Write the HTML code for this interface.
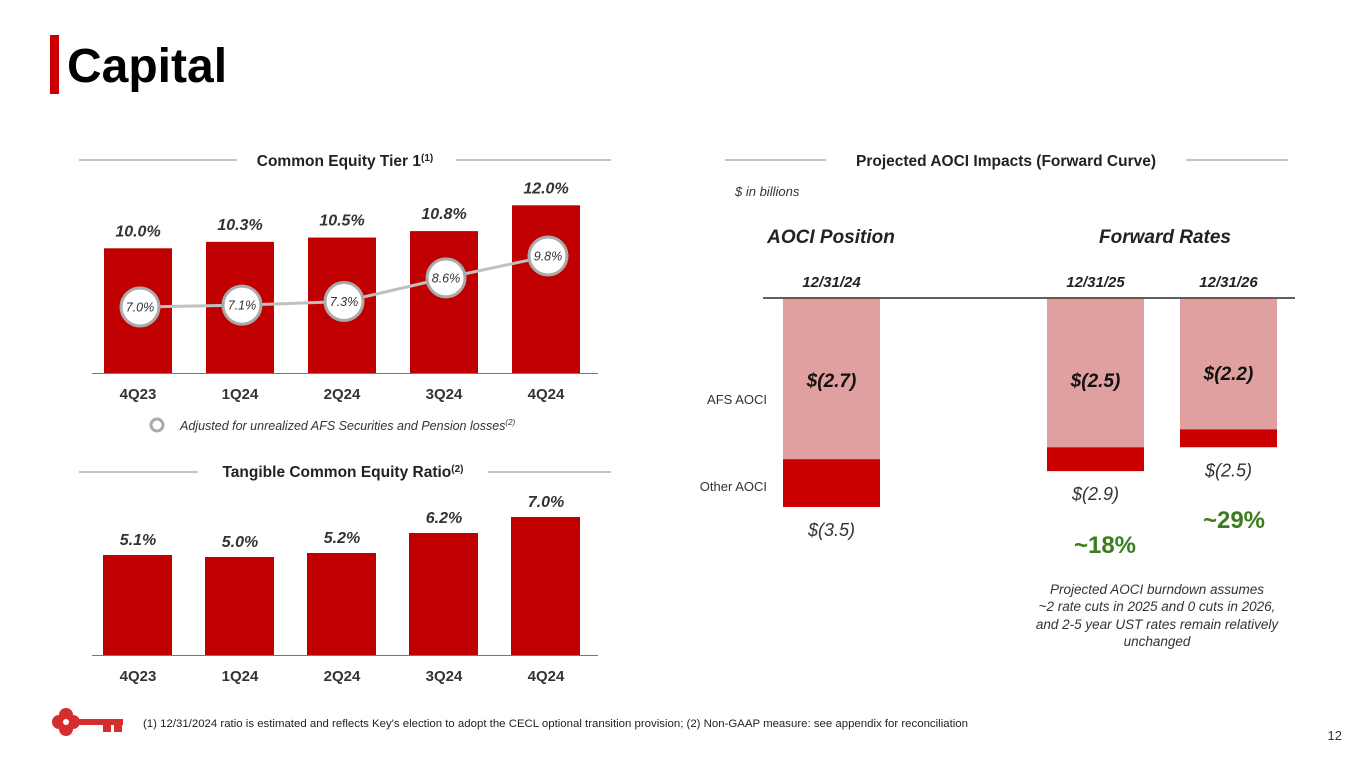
<!DOCTYPE html>
<html><head><meta charset="utf-8">
<style>
html,body{margin:0;padding:0;background:#fff;}
body{width:1365px;height:768px;overflow:hidden;font-family:"Liberation Sans",Arial,sans-serif;}
svg text{font-family:"Liberation Sans",Arial,sans-serif;}
</style></head>
<body>
<svg id="s" width="1365" height="768" viewBox="0 0 1365 768" xmlns="http://www.w3.org/2000/svg">
<rect x="50" y="35" width="9" height="59" fill="#cc0000"/>
<text x="67" y="82" font-size="48" font-weight="bold" fill="#000">Capital</text>

<g>
<line x1="79" y1="160" x2="237" y2="160" stroke="#888" stroke-width="1"/>
<line x1="456" y1="160" x2="611" y2="160" stroke="#888" stroke-width="1"/>
<text x="345" y="166" font-size="15.5" font-weight="bold" text-anchor="middle" fill="#222">Common Equity Tier 1<tspan font-size="10" dy="-5">(1)</tspan></text>
</g>
<g>
<line x1="79" y1="472" x2="198" y2="472" stroke="#888" stroke-width="1"/>
<line x1="488" y1="472" x2="611" y2="472" stroke="#888" stroke-width="1"/>
<text x="343" y="477" font-size="15.5" font-weight="bold" text-anchor="middle" fill="#222">Tangible Common Equity Ratio<tspan font-size="10" dy="-5">(2)</tspan></text>
</g>
<g>
<line x1="725" y1="160" x2="826" y2="160" stroke="#888" stroke-width="1"/>
<line x1="1186" y1="160" x2="1288" y2="160" stroke="#888" stroke-width="1"/>
<text x="1006" y="166" font-size="15.5" font-weight="bold" text-anchor="middle" fill="#222">Projected AOCI Impacts (Forward Curve)</text>
</g>

<g id="cet1"></g>
<g>
<circle cx="157" cy="425" r="6" fill="#fff" stroke="#aaa" stroke-width="3"/>
<text x="180" y="430" font-size="12.5" font-style="italic" fill="#333">Adjusted for unrealized AFS Securities and Pension losses<tspan font-size="8" dy="-5">(2)</tspan></text>
</g>
<g id="tce"></g>

<text x="735" y="196" font-size="13" font-style="italic" fill="#333">$ in billions</text>
<text x="831" y="243" font-size="19" font-weight="bold" font-style="italic" text-anchor="middle" fill="#222">AOCI Position</text>
<text x="1165" y="243" font-size="19" font-weight="bold" font-style="italic" text-anchor="middle" fill="#222">Forward Rates</text>
<text x="767" y="404" font-size="13" text-anchor="end" fill="#333">AFS AOCI</text>
<text x="767" y="491" font-size="13" text-anchor="end" fill="#333">Other AOCI</text>
<g id="aoci"></g>
<text x="1105" y="553" font-size="24" font-weight="bold" text-anchor="middle" fill="#3a7d1a">~18%</text>
<text x="1234" y="528" font-size="24" font-weight="bold" text-anchor="middle" fill="#3a7d1a">~29%</text>
<g font-size="13.5" font-style="italic" fill="#333" text-anchor="middle">
<text x="1157" y="594">Projected AOCI burndown assumes</text>
<text x="1157" y="611">~2 rate cuts in 2025 and 0 cuts in 2026,</text>
<text x="1157" y="629">and 2-5 year UST rates remain relatively</text>
<text x="1157" y="646">unchanged</text>
</g>

<g fill="#d42e2e">
<circle cx="66" cy="715" r="7"/><circle cx="66" cy="729" r="7"/><circle cx="59" cy="722" r="7"/><circle cx="73" cy="722" r="7"/>
<circle cx="66" cy="722" r="3" fill="#fff"/>
<rect x="78" y="719" width="45" height="6"/>
<rect x="103" y="724" width="8" height="8"/><rect x="114" y="724" width="8" height="8"/>
</g>
<text x="143" y="727" font-size="11" textLength="825" lengthAdjust="spacingAndGlyphs" fill="#222">(1) 12/31/2024 ratio is estimated and reflects Key's election to adopt the CECL optional transition provision; (2) Non-GAAP measure: see appendix for reconciliation</text>
<text x="1342" y="740" font-size="13" text-anchor="end" fill="#333">12</text>
</svg>
<script>
const quarters = ["4Q23","1Q24","2Q24","3Q24","4Q24"];
const cet1Values = [10.0,10.3,10.5,10.8,12.0];
const cet1Adjusted = [7.0,7.1,7.3,8.6,9.8];
const tceValues = [5.1,5.0,5.2,6.2,7.0];
const aociDates = ["12/31/24","12/31/25","12/31/26"];
const aociAfs = [2.7,2.5,2.2];
const aociTotal = [3.5,2.9,2.5];

const NS = "http://www.w3.org/2000/svg";
function mk(parent, tag, attrs, txt){
  const e = document.createElementNS(NS, tag);
  for (const k in attrs) e.setAttribute(k, attrs[k]);
  if (txt !== undefined) e.textContent = txt;
  parent.appendChild(e);
  return e;
}
const fmtPct = v => v.toFixed(1) + "%";
const xBand = i => 104 + i*102;
const barW = 68;

const cet = document.getElementById("cet1");
const yC = v => 373 - (v - 4.2) * 21.5;
const yL = v => 307 - (v - 7.0) * 18.2;
cet1Values.forEach((v,i)=>{
  const r = mk(cet,"rect",{x:xBand(i),y:yC(v),width:barW,height:373-yC(v),fill:"#c00000"});
  
  
  const t = mk(cet,"text",{x:xBand(i)+barW/2,y:yC(v)-12,"font-size":"16","font-weight":"bold","font-style":"italic","text-anchor":"middle",fill:"#333"},fmtPct(v));
  
  
  const q = mk(cet,"text",{x:xBand(i)+barW/2,y:399,"font-size":"15","font-weight":"bold","text-anchor":"middle",fill:"#333"},quarters[i]);
  
  
});
const ax1 = mk(cet,"line",{x1:92,y1:373.5,x2:598,y2:373.5,stroke:"#777","stroke-width":"1"});


const pts = cet1Adjusted.map((v,i)=>(xBand(i)+barW/2+2)+","+yL(v)).join(" ");
const pl = mk(cet,"polyline",{points:pts,fill:"none",stroke:"#c0c0c0","stroke-width":"3"});


cet1Adjusted.forEach((v,i)=>{
  const cx = xBand(i)+barW/2+2, cy = yL(v);
  const c = mk(cet,"circle",{cx:cx,cy:cy,r:19,fill:"#fff",stroke:"#aaa","stroke-width":"3"});
  
  
  const t = mk(cet,"text",{x:cx,y:cy+4.5,"font-size":"12.5","font-style":"italic","text-anchor":"middle",fill:"#333"},fmtPct(v));
  
  
});

const tce = document.getElementById("tce");
const yT = v => 655 - (v - 0.1) * 20;
tceValues.forEach((v,i)=>{
  const r = mk(tce,"rect",{x:xBand(i)-1,y:yT(v),width:barW+1,height:655-yT(v),fill:"#c00000"});
  
  
  const t = mk(tce,"text",{x:xBand(i)+barW/2,y:yT(v)-10,"font-size":"16","font-weight":"bold","font-style":"italic","text-anchor":"middle",fill:"#333"},fmtPct(v));
  
  
  const q = mk(tce,"text",{x:xBand(i)+barW/2,y:681,"font-size":"15","font-weight":"bold","text-anchor":"middle",fill:"#333"},quarters[i]);
  
  
});
const ax2 = mk(tce,"line",{x1:92,y1:655.5,x2:598,y2:655.5,stroke:"#777","stroke-width":"1"});



const ao = document.getElementById("aoci");
const yA = v => 298 + v * 59.7;
const aX = [783, 1047, 1180];
const aW = 97;
const ax3 = mk(ao,"line",{x1:763,y1:298,x2:1295,y2:298,stroke:"#000","stroke-width":"1.2"});


aociDates.forEach((d,i)=>{
  const cx = aX[i]+aW/2;
  const dl = mk(ao,"text",{x:cx,y:287,"font-size":"15","font-weight":"bold","font-style":"italic","text-anchor":"middle",fill:"#222"},d);
  
  
  const r1 = mk(ao,"rect",{x:aX[i],y:298.5,width:aW,height:yA(aociAfs[i])-298.5,fill:"#e0a0a0"});
  
  
  const r2 = mk(ao,"rect",{x:aX[i],y:yA(aociAfs[i]),width:aW,height:yA(aociTotal[i])-yA(aociAfs[i]),fill:"#cc0000"});
  
  
  const ly = i===2 ? 374 : 381;
  const t = mk(ao,"text",{x:cx,y:ly+6,"font-size":"19","font-weight":"bold","font-style":"italic","text-anchor":"middle",fill:"#111"},"$(" + aociAfs[i].toFixed(1) + ")");
  
  
  const tt = mk(ao,"text",{x:cx,y:yA(aociTotal[i])+29,"font-size":"18","font-style":"italic","text-anchor":"middle",fill:"#333"},"$(" + aociTotal[i].toFixed(1) + ")");
  
  
});
</script>
</body></html>
